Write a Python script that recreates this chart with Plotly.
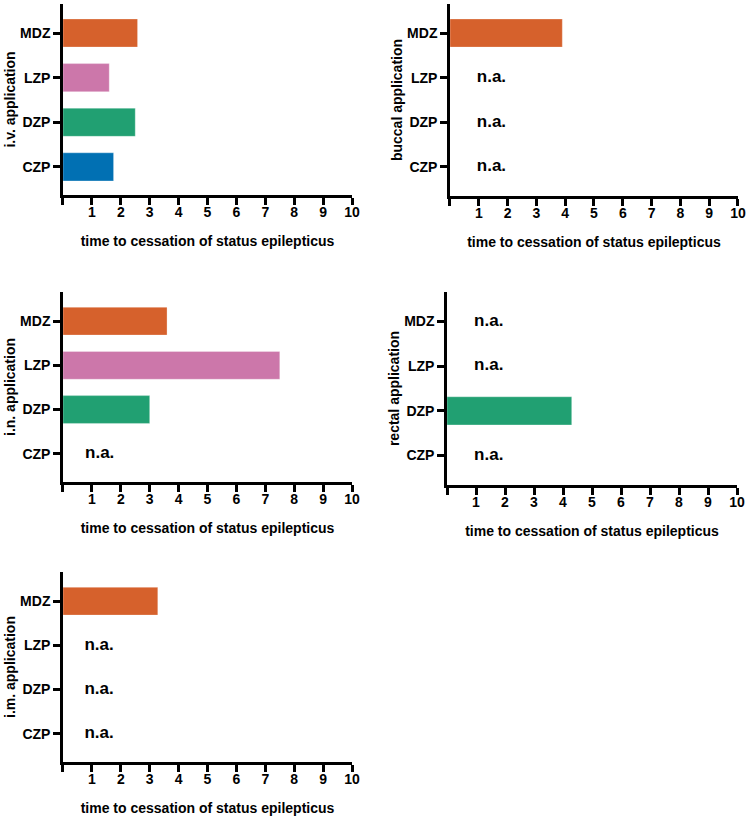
import plotly.graph_objects as go

# ---- data ----
drugs = ["CZP", "DZP", "LZP", "MDZ"]
routes = ["i.v. application", "buccal application", "i.n. application",
          "rectal application", "i.m. application"]
iv_values = [1.75, 2.5, 1.6, 2.58]
buccal_values = [None, None, None, 3.9]
in_values = [None, 3.0, 7.5, 3.6]
rectal_values = [None, 4.3, None, None]
im_values = [None, None, None, 3.28]
x_tick_vals = [0, 1, 2, 3, 4, 5, 6, 7, 8, 9, 10]
x_tick_text = ["", "1", "2", "3", "4", "5", "6", "7", "8", "9", "10"]
x_title = "time to cessation of status epilepticus"
na_label = "n.a."

drug_colors = {"MDZ": "#D6612C", "LZP": "#CC77AA", "DZP": "#21A072", "CZP": "#0170B3"}

series = [iv_values, buccal_values, in_values, rectal_values, im_values]

# ---- layout parameters ----
W, H = 749, 820
domains = [
    ([0.0841, 0.470], [0.7622, 0.9951]),
    ([0.6008, 0.9853], [0.7610, 0.9951]),
    ([0.0841, 0.470], [0.4122, 0.6439]),
    ([0.5968, 0.9840], [0.4085, 0.6439]),
    ([0.0841, 0.470], [0.0707, 0.3024]),
]
y_ranges = [[-0.63, 3.65], [-0.65, 3.65], [-0.64, 3.66], [-0.66, 3.66], [-0.64, 3.66]]
na_x_pos = [1.27, 1.44, 1.27, 1.44, 1.25]

FONT = "Liberation Sans, Arial, sans-serif"

fig = go.Figure()
layout = dict(
    width=W, height=H,
    margin=dict(l=0, r=0, t=0, b=0, autoexpand=False),
    paper_bgcolor="white", plot_bgcolor="white",
    showlegend=False,
    font=dict(family=FONT, size=14, color="black"),
)

for i, (vals, route) in enumerate(zip(series, routes)):
    n = i + 1
    xa = "x" if n == 1 else f"x{n}"
    ya = "y" if n == 1 else f"y{n}"
    fig.add_trace(go.Bar(
        x=vals, y=drugs, orientation="h",
        marker=dict(color=[drug_colors[d] for d in drugs],
                    line=dict(width=0.6, color="rgba(255,255,255,0.5)")),
        width=0.63, xaxis=xa, yaxis=ya, hoverinfo="skip",
    ))
    na_drugs = [d for d, v in zip(drugs, vals) if v is None]
    if na_drugs:
        fig.add_trace(go.Scatter(
            x=[na_x_pos[i]] * len(na_drugs), y=na_drugs, mode="text",
            text=[na_label] * len(na_drugs),
            textfont=dict(family=FONT, size=17, color="black", weight="bold"),
            xaxis=xa, yaxis=ya, hoverinfo="skip",
        ))
    xd, yd = domains[i]
    xkey = "xaxis" if n == 1 else f"xaxis{n}"
    ykey = "yaxis" if n == 1 else f"yaxis{n}"
    layout[xkey] = dict(
        domain=xd, anchor=ya, range=[0, 10],
        tickmode="array", tickvals=x_tick_vals, ticktext=x_tick_text,
        ticks="outside", ticklen=7, tickwidth=2.5, tickcolor="black",
        ticklabelstandoff=-5,
        showline=True, linewidth=2.5, linecolor="black",
        showgrid=False, zeroline=False, automargin=False,
        tickfont=dict(family=FONT, size=14, color="black", weight="bold"),
        title=dict(text=x_title, standoff=18,
                   font=dict(family=FONT, size=14, color="black", weight="bold")),
        fixedrange=True,
    )
    layout[ykey] = dict(
        domain=yd, anchor=xa, type="category",
        categoryorder="array", categoryarray=drugs,
        range=y_ranges[i],
        ticks="outside", ticklen=7, tickwidth=2.5, tickcolor="black",
        showline=True, linewidth=2.5, linecolor="black",
        showgrid=False, zeroline=False, automargin=False,
        tickfont=dict(family=FONT, size=14, color="black", weight="bold"),
        title=dict(text=route, standoff=2,
                   font=dict(family=FONT, size=14, color="black", weight="bold")),
        fixedrange=True,
    )

fig.update_layout(**layout)
fig.write_html(
    "out.html",
    config={"displayModeBar": False},
    post_script="document.body.style.margin='0';document.body.style.overflow='hidden';",
)
